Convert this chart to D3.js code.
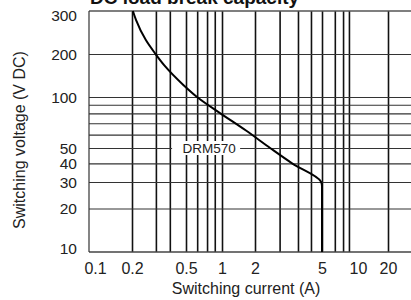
<!DOCTYPE html>
<html>
<head>
<meta charset="utf-8">
<script src="https://cdn.jsdelivr.net/npm/d3@7"></script>
<style>
    body { margin: 0; background: #fff; }
    text { font-family: "Liberation Sans", Arial, Helvetica, sans-serif; fill: #222; }
</style>
</head>
<body>
<div id="chart"></div>
<script>
var xTicks = [0.1, 0.2, 0.5, 1, 2, 5, 10, 20];
var yTicks = [10, 20, 30, 40, 50, 100, 200, 300];
var xGrid = [0.2, 0.3, 0.38, 0.5, 0.62, 0.75, 0.87, 1, 2, 2.8, 3.6, 4.3, 5, 6.4, 7.5, 8.4, 20];
var yGrid = [20, 30, 40, 50, 60, 70, 80, 90, 100, 200];
// DRM570 curve: [current (A), voltage (V DC)]
var curve = [[0.203, 300], [0.214, 276], [0.253, 228], [0.298, 200], [0.345, 167], [0.48, 121],
    [0.63, 99], [0.962, 80.4], [1.655, 63.4], [2.46, 50], [3.32, 40], [4.93, 30.2], [5, 28.2], [5, 10]];
var seriesName = "DRM570";
var labelAt = [0.78, 50];

var w = 411, h = 300;
var plotL = 89, plotR = 412, plotT = 11, plotB = 252;

// the printed grid is not a clean log grid, so the scales are piecewise through the labelled values
var x = d3.scaleLog()
    .domain([0.089].concat(xTicks, [34]))
    .range([plotL, 95, 132, 186, 222, 255, 322, 358, 388, plotR]);
var y = d3.scaleLog()
    .domain(yTicks)
    .range([plotB, 208.5, 182, 163.3, 148, 97, 54, plotT]);

var svg = d3.select("#chart").append("svg")
    .attr("width", w)
    .attr("height", h);

svg.append("text")
    .attr("x", 90)
    .attr("y", 4)
    .style("font-size", "19px")
    .style("font-weight", "bold")
    .style("fill", "#111")
    .text("DC load break capacity");

// grid
svg.append("g")
    .attr("transform", "translate(0," + plotT + ")")
    .call(d3.axisTop(x).tickValues(xGrid).tickSize(-(plotB - plotT)).tickFormat(""))
    .call(function (g) { g.select(".domain").remove(); })
    .selectAll("line")
    .attr("stroke", "#111")
    .attr("stroke-width", 1.6);

svg.append("g")
    .attr("transform", "translate(" + plotL + ",0)")
    .call(d3.axisLeft(y).tickValues(yGrid).tickSize(-(plotR - plotL)).tickFormat(""))
    .call(function (g) { g.select(".domain").remove(); })
    .selectAll("line")
    .attr("stroke", "#333")
    .attr("stroke-width", 1.2);

// frame
svg.append("line").attr("x1", plotL).attr("x2", plotR).attr("y1", plotT).attr("y2", plotT)
    .attr("stroke", "#555").attr("stroke-width", 1.6);
svg.append("line").attr("x1", plotL).attr("x2", plotR).attr("y1", plotB).attr("y2", plotB)
    .attr("stroke", "#444").attr("stroke-width", 1.6);
svg.append("line").attr("x1", plotL).attr("x2", plotL).attr("y1", plotT).attr("y2", plotB)
    .attr("stroke", "#333").attr("stroke-width", 1.2);

// series label with white box
var lab = svg.append("g")
    .attr("transform", "translate(" + x(labelAt[0]) + "," + y(labelAt[1]) + ")");
lab.append("rect")
    .attr("x", -37)
    .attr("y", -7)
    .attr("width", 68)
    .attr("height", 14)
    .attr("fill", "#fff");
lab.append("text")
    .attr("text-anchor", "middle")
    .attr("dy", "0.36em")
    .style("font-size", "13.5px")
    .text(seriesName);

var line = d3.line()
    .x(function (d) { return x(d[0]); })
    .y(function (d) { return y(d[1]); })
    .curve(d3.curveMonotoneY);

svg.append("path")
    .datum(curve)
    .attr("d", line)
    .attr("fill", "none")
    .attr("stroke", "#000")
    .attr("stroke-width", 2);

// tick labels
var yAxis = svg.append("g")
    .attr("transform", "translate(" + plotL + ",0)")
    .call(d3.axisLeft(y).tickValues(yTicks).tickSize(0).tickPadding(12).tickFormat(d3.format("d")));
yAxis.select(".domain").remove();
yAxis.selectAll("text")
    .style("font-size", "15.5px")
    .style("font-family", null)
    .attr("fill", null)
    .attr("dy", function (d) { return d === 300 ? "0.62em" : d === 10 ? "0.12em" : "0.34em"; });

var xAxis = svg.append("g")
    .attr("transform", "translate(0," + plotB + ")")
    .call(d3.axisBottom(x).tickValues(xTicks).tickSize(0).tickPadding(11).tickFormat(function (d) { return d; }));
xAxis.select(".domain").remove();
xAxis.selectAll("text")
    .style("font-size", "16px")
    .style("font-family", null)
    .attr("fill", null);

svg.append("text")
    .attr("x", 246)
    .attr("y", 294)
    .attr("text-anchor", "middle")
    .style("font-size", "16px")
    .text("Switching current (A)");

svg.append("text")
    .attr("transform", "translate(25,140) rotate(-90)")
    .attr("text-anchor", "middle")
    .style("font-size", "16px")
    .text("Switching voltage (V DC)");
</script>
</body>
</html>
